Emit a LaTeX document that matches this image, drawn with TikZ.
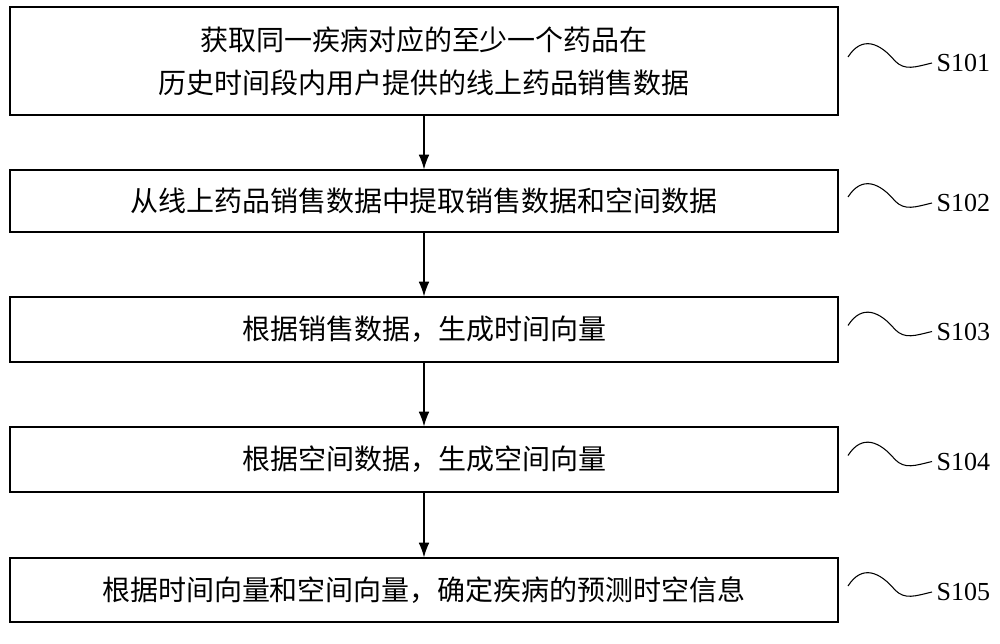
\documentclass[tikz,border=0pt]{standalone}
\usepackage{fontspec}
\setmainfont{Liberation Serif}
\newfontfamily\cjk{Noto Sans CJK SC}
\usetikzlibrary{arrows.meta}
\begin{document}
\begin{tikzpicture}[x=0.75pt,y=-0.75pt,
  stepbox/.style={draw,line width=0.9pt,minimum width=828*0.75pt,align=center,font=\cjk\fontsize{21}{32}\selectfont,inner sep=0pt},
  arr/.style={-{Latex[length=11pt,width=8pt]},line width=0.9pt},
  wave/.style={line width=0.8pt},
  lab/.style={font=\fontsize{19.5}{22}\selectfont,anchor=west}]
\useasboundingbox (0,0) rectangle (1000,643);
\node[stepbox,minimum height=108*0.75pt] (b1) at (424,61) {获取同一疾病对应的至少一个药品在\\历史时间段内用户提供的线上药品销售数据};
\node[stepbox,minimum height=62*0.75pt] (b2) at (424,201) {从线上药品销售数据中提取销售数据和空间数据};
\node[stepbox,minimum height=65*0.75pt] (b3) at (424,329.5) {根据销售数据，生成时间向量};
\node[stepbox,minimum height=65*0.75pt] (b4) at (424,459.5) {根据空间数据，生成空间向量};
\node[stepbox,minimum height=64*0.75pt] (b5) at (424,590) {根据时间向量和空间向量，确定疾病的预测时空信息};
\draw[arr] (b1) -- (b2);
\draw[arr] (b2) -- (b3);
\draw[arr] (b3) -- (b4);
\draw[arr] (b4) -- (b5);
\foreach \i/\y in {1/61,2/201,3/329.5,4/459.5,5/590}{
  \coordinate (w\i) at (848,\y-4);
  \node[lab] (s\i) at (932,\y+2) {S10\i};
  \draw[wave] (w\i) .. controls (862,\y-26) and (880,\y-18) .. (895,\y) .. controls (905,\y+10) and (915,\y+6) .. (s\i.west);
}
\end{tikzpicture}
\end{document}
